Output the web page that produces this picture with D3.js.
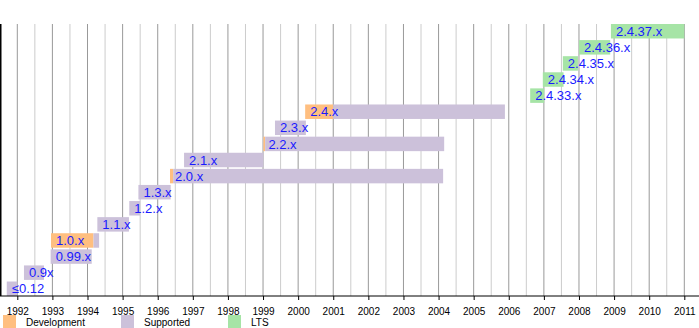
<!DOCTYPE html>
<html>
<head>
<meta charset="utf-8">
<script src="https://cdn.jsdelivr.net/npm/d3@7"></script>
<style>
  html, body { margin: 0; padding: 0; background: #fff; }
  svg { display: block; font-family: "Liberation Sans", Arial, sans-serif; }
</style>
</head>
<body>
<svg id="chart" width="699" height="328"></svg>
<script>
// Kernel release series, oldest first (bottom row to top row)
const releases = ["≤0.12", "0.9x", "0.99.x", "1.0.x", "1.1.x", "1.2.x", "1.3.x",
  "2.0.x", "2.1.x", "2.2.x", "2.3.x", "2.4.x",
  "2.4.33.x", "2.4.34.x", "2.4.35.x", "2.4.36.x", "2.4.37.x"];
// Start of each series (decimal years)
const startYear = [1991.70, 1992.19, 1992.95, 1992.96, 1994.28, 1995.19, 1995.45,
  1996.35, 1996.75, 1999.01, 1999.34, 2000.20,
  2006.61, 2006.97, 2007.54, 2008.00, 2008.91];
// End of the development phase (equal to start when there is none)
const devUntil = [1991.70, 1992.19, 1992.95, 1994.17, 1994.28, 1995.19, 1995.45,
  1996.44, 1996.75, 1999.06, 1999.34, 2001.00,
  2006.61, 2006.97, 2007.54, 2008.00, 2008.91];
// End of maintenance
const endYear = [1992.00, 1992.76, 1994.12, 1994.33, 1995.18, 1995.50, 1996.37,
  2004.13, 1999.01, 2004.16, 2000.22, 2005.89,
  2007.01, 2007.56, 2007.97, 2008.89, 2011.00];
// Maintenance phase kind per series
const phase = ["Supported", "Supported", "Supported", "Supported", "Supported", "Supported", "Supported",
  "Supported", "Supported", "Supported", "Supported", "Supported",
  "LTS", "LTS", "LTS", "LTS", "LTS"];
// Axis years and legend entries
const tickYears = d3.range(1992, 2012);
const legendKeys = ["Development", "Supported", "LTS"];

const colors = { Development: "#ffbf80", Supported: "#ccc1da", LTS: "#a6e4a6" };

const svg = d3.select("#chart");
const plotTop = 24, axisY = 296;

const x = d3.scaleLinear().domain([1992, 2011]).range([17.3, 684.3]);
const y = d3.scaleBand()
  .domain(releases.slice().reverse())
  .range([plotTop, axisY])
  .paddingInner(0.1)
  .paddingOuter(0);

// Half-year and full-year grid lines
const halfYears = d3.range(1992.5, 2011, 1);
svg.append("g").selectAll("line").data(halfYears).join("line")
  .attr("x1", d => x(d)).attr("x2", d => x(d))
  .attr("y1", plotTop).attr("y2", axisY)
  .attr("stroke", "#cccccc").attr("stroke-width", 1);
svg.append("g").selectAll("line").data(tickYears).join("line")
  .attr("x1", d => x(d)).attr("x2", d => x(d))
  .attr("y1", plotTop).attr("y2", axisY)
  .attr("stroke", "#999999").attr("stroke-width", 1);

// Bars: development segment, then maintenance segment
const rows = releases.map((name, i) => ({
  name, start: startYear[i], dev: devUntil[i], end: endYear[i], kind: phase[i]
}));

const bars = svg.append("g");
bars.selectAll("rect.dev").data(rows.filter(r => r.dev > r.start)).join("rect")
  .attr("class", "dev")
  .attr("x", d => x(d.start))
  .attr("width", d => x(d.dev) - x(d.start))
  .attr("y", d => y(d.name))
  .attr("height", y.bandwidth())
  .attr("fill", colors.Development);
bars.selectAll("rect.sup").data(rows.filter(r => r.end > r.dev)).join("rect")
  .attr("class", "sup")
  .attr("x", d => x(d.dev))
  .attr("width", d => x(d.end) - x(d.dev))
  .attr("y", d => y(d.name))
  .attr("height", y.bandwidth())
  .attr("fill", d => colors[d.kind]);

// Series labels
svg.append("g").selectAll("text").data(rows).join("text")
  .attr("x", d => x(d.start) + 5)
  .attr("y", d => y(d.name) + y.bandwidth() / 2 + 4.6)
  .attr("font-size", 13)
  .attr("fill", "#1a1aff")
  .text(d => d.name);

// Left edge
svg.append("line")
  .attr("x1", 0.75).attr("x2", 0.75).attr("y1", plotTop).attr("y2", axisY)
  .attr("stroke", "#000").attr("stroke-width", 1.5);

// Time axis
const axis = d3.axisBottom(x)
  .tickValues(tickYears)
  .tickFormat(d3.format("d"))
  .tickSize(4)
  .tickPadding(8);
const ax = svg.append("g").attr("transform", `translate(0,${axisY})`).call(axis);
ax.select(".domain").remove();
ax.append("line").attr("x1", 0).attr("x2", 699).attr("stroke", "#000");
ax.selectAll(".tick text").attr("font-size", 10).attr("fill", "#000")
  .attr("font-family", "'Liberation Sans', Arial, sans-serif");
ax.selectAll(".tick line").attr("stroke", "#000");

// Legend
const legendX = [3, 121, 228];
const legend = svg.append("g").selectAll("g").data(legendKeys).join("g")
  .attr("transform", (d, i) => `translate(${legendX[i]},315)`);
legend.append("rect").attr("width", 13).attr("height", 13).attr("fill", d => colors[d]);
legend.append("text").attr("x", 23).attr("y", 10.5)
  .attr("font-size", 10).attr("fill", "#000").text(d => d);
</script>
</body>
</html>
